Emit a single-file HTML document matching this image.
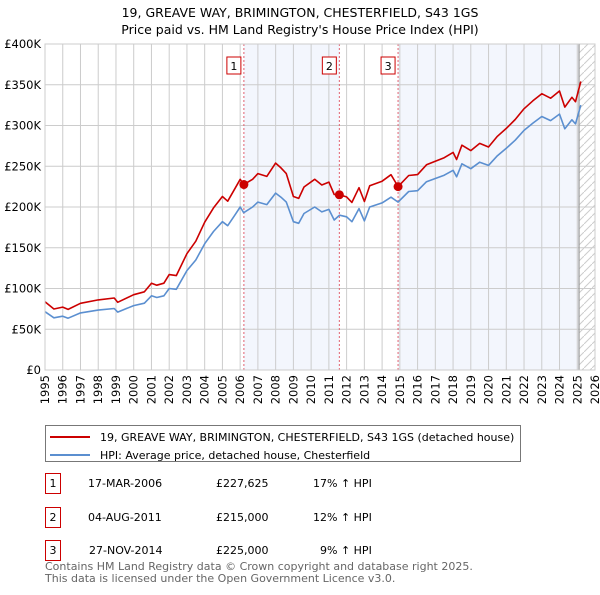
<!DOCTYPE html>
<html><head><meta charset="utf-8"><style>
body{margin:0;background:#fff;font-family:"Liberation Sans","DejaVu Sans",sans-serif;}
svg text{font-family:"DejaVu Sans","Liberation Sans",sans-serif;}
</style></head><body>
<svg id="chart" width="600" height="590" xmlns="http://www.w3.org/2000/svg">
<text x="300" y="17" text-anchor="middle" font-size="12.5">19, GREAVE WAY, BRIMINGTON, CHESTERFIELD, S43 1GS</text>
<text x="300" y="34" text-anchor="middle" font-size="12.5">Price paid vs. HM Land Registry's House Price Index (HPI)</text>
<g id="plot"></g>
<g>
<rect x="45.5" y="425.5" width="475" height="36" fill="#fff" stroke="#777"/>
<line x1="50" y1="437" x2="90" y2="437" stroke="#cc0000" stroke-width="2"/>
<text x="100" y="441" font-size="11">19, GREAVE WAY, BRIMINGTON, CHESTERFIELD, S43 1GS (detached house)</text>
<line x1="50" y1="455" x2="90" y2="455" stroke="#5b8fd0" stroke-width="2"/>
<text x="100" y="459" font-size="11">HPI: Average price, detached house, Chesterfield</text>
</g>
<g font-size="11">
<rect x="45.5" y="473.5" width="15" height="20" fill="#fff" stroke="#cc0000"/>
<text x="53" y="487" text-anchor="middle">1</text>
<text x="88" y="487">17-MAR-2006</text>
<text x="216" y="487">£227,625</text>
<text x="313" y="487">17% ↑ HPI</text>
<rect x="45.5" y="507.5" width="15" height="20" fill="#fff" stroke="#cc0000"/>
<text x="53" y="521" text-anchor="middle">2</text>
<text x="88" y="521">04-AUG-2011</text>
<text x="216" y="521">£215,000</text>
<text x="313" y="521">12% ↑ HPI</text>
<rect x="45.5" y="540.5" width="15" height="20" fill="#fff" stroke="#cc0000"/>
<text x="53" y="554" text-anchor="middle">3</text>
<text x="89" y="554">27-NOV-2014</text>
<text x="216" y="554">£225,000</text>
<text x="320" y="554">9% ↑ HPI</text>
</g>
<text x="45" y="570" font-size="11" fill="#666">Contains HM Land Registry data © Crown copyright and database right 2025.</text>
<text x="45" y="582" font-size="11" fill="#666">This data is licensed under the Open Government Licence v3.0.</text>
</svg>
<script>
const years=[1995.0,1995.5,1996.0,1996.3,1997.0,1998.0,1998.9,1999.1,2000.0,2000.6,2001.0,2001.3,2001.7,2002.0,2002.4,2003.0,2003.5,2004.0,2004.5,2005.0,2005.3,2005.7,2006.0,2006.2,2006.7,2007.0,2007.5,2008.0,2008.3,2008.6,2009.0,2009.3,2009.6,2010.2,2010.6,2011.0,2011.3,2011.6,2012.0,2012.3,2012.7,2013.0,2013.3,2014.0,2014.5,2014.9,2015.5,2016.0,2016.5,2017.0,2017.5,2018.0,2018.2,2018.5,2019.0,2019.5,2020.0,2020.5,2021.0,2021.5,2022.0,2022.5,2023.0,2023.5,2024.0,2024.3,2024.7,2024.9,2025.2];
const hpi=[71.5,64,66,63.5,70,73.5,75.5,71,79,82,91,89,91,100,99,122,135,155,170,182,177,190,200,193,200,206,203,217,212,206,182,180,192,200,194,197,184,190,188,182,198,183,200,205,212,206,219,220,231,235,239,245,237,253,247,255,251,263,272,282,294,303,311,306,314,296,307,302,325];
const price=[83.7,74.9,77.2,74.3,81.9,86,88.3,83.1,92.4,95.9,106.5,104.1,106.5,117,115.8,142.7,158,181.4,198.9,212.9,207.1,222.3,234,227.6,234,241,237.5,253.9,248,241,212.9,210.6,224.6,234,227,230.5,215.3,215,212.4,205.7,223.7,206.8,226,231.7,239.6,225,238.7,239.8,251.8,256.2,260.5,267,258.3,275.8,269.2,278,273.6,286.7,296.5,307.4,320.5,330.3,339,333.5,342.3,322.6,334.6,329.2,354];
const saleYears=[2006.21,2011.59,2014.9];
const salePrices=[227.6,215,225];
const yTicks=[0,50,100,150,200,250,300,350,400];
const yTickLabels=["£0","£50K","£100K","£150K","£200K","£250K","£300K","£350K","£400K"];
const xTicks=[1995,1996,1997,1998,1999,2000,2001,2002,2003,2004,2005,2006,2007,2008,2009,2010,2011,2012,2013,2014,2015,2016,2017,2018,2019,2020,2021,2022,2023,2024,2025,2026];

const NS="http://www.w3.org/2000/svg";
const L=45,R=595,T=44,B=370;
const X=y=>L+(y-1995)/(2026-1995)*(R-L);
const Y=v=>B-v/400*(B-T);
const g=document.getElementById('plot');
function mk(tag,attrs,parent){const e=document.createElementNS(NS,tag);for(const k in attrs)e.setAttribute(k,attrs[k]);(parent||g).appendChild(e);return e;}
let s1=mk('rect',{x:X(saleYears[0]),y:T,width:X(saleYears[1])-X(saleYears[0]),height:B-T,fill:'#f3f6fd'});


let s2=mk('rect',{x:X(saleYears[2]),y:T,width:X(2025.1)-X(saleYears[2]),height:B-T,fill:'#f3f6fd'});


const defs=mk('defs',{});
const pat=mk('pattern',{id:'hatch',width:8,height:8,patternUnits:'userSpaceOnUse'},defs);
mk('path',{d:'M0,8 L8,0',stroke:'#ccc','stroke-width':1},pat);
let h=mk('rect',{x:X(2025.1),y:T,width:R-X(2025.1),height:B-T,fill:'url(#hatch)'});


yTicks.forEach((v,i)=>{
  let l=mk('line',{x1:L,x2:R,y1:Y(v),y2:Y(v),stroke:'#ccc','stroke-width':1});
  
  
  let t=mk('text',{x:L-4,y:Y(v)+4,'text-anchor':'end','font-size':11.5});
  t.textContent=yTickLabels[i];
  
  
});
xTicks.forEach(yr=>{
  let l=mk('line',{x1:X(yr),x2:X(yr),y1:T,y2:B,stroke:'#ccc','stroke-width':1});
  
  
  let t=mk('text',{x:0,y:0,'text-anchor':'end','font-size':11.5,transform:`translate(${X(yr)+4},${B+5}) rotate(-90)`});
  t.textContent=yr;
  
  
});
let vl=mk('line',{x1:X(2025.1),x2:X(2025.1),y1:T,y2:B,stroke:'#999','stroke-width':1.2});


saleYears.forEach((yr,i)=>{
  let l=mk('line',{x1:X(yr),x2:X(yr),y1:T,y2:B,stroke:'#e06070','stroke-width':1,'stroke-dasharray':'2,2'});
  
  
  let b=mk('rect',{x:X(yr)-17,y:57,width:14,height:17,fill:'#fff',stroke:'#cc0000'});
  
  
  let t=mk('text',{x:X(yr)-10,y:70,'text-anchor':'middle','font-size':11});
  t.textContent=i+1;
  
  
});
function line(vals,color,name){
  const d=vals.map((v,i)=>(i?'L':'M')+X(years[i]).toFixed(1)+','+Y(v).toFixed(1)).join(' ');
  let p=mk('path',{d:d,fill:'none',stroke:color,'stroke-width':1.6,'stroke-linejoin':'round'});
  
  
}
line(hpi,'#5b8fd0','hpi-line');
line(price,'#cc0000','price-line');
saleYears.forEach((yr,i)=>{
  let c=mk('circle',{cx:X(yr),cy:Y(salePrices[i]),r:4.5,fill:'#cc0000'});
  
  
});
let bx=mk('rect',{x:L,y:T,width:R-L,height:B-T,fill:'none',stroke:'#ccc'});


</script>
</body></html>
